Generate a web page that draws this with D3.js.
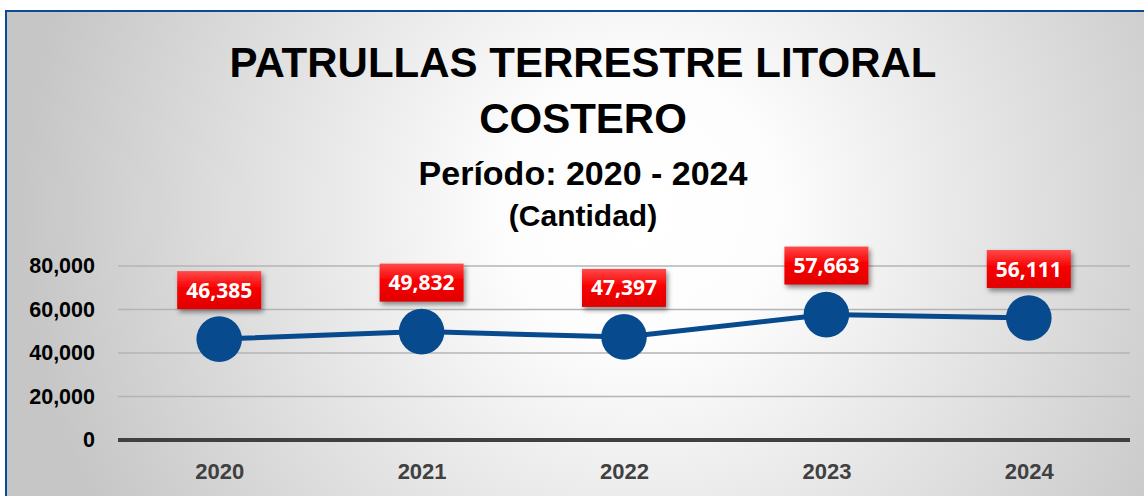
<!DOCTYPE html>
<html>
<head>
<meta charset="utf-8">
<script src="https://cdn.jsdelivr.net/npm/d3@7"></script>
<style>
  html, body { margin: 0; padding: 0; background: #fff; }
  svg { display: block; }
</style>
</head>
<body>
<svg id="chart" width="1144" height="496"></svg>
<script>
const years = ['2020', '2021', '2022', '2023', '2024'];
const patrullas = [46385, 49832, 47397, 57663, 56111];
const yTicks = [0, 20000, 40000, 60000, 80000];
const titleLines = ['PATRULLAS TERRESTRE LITORAL', 'COSTERO'];
const subtitle = 'Período: 2020 - 2024';
const unitLabel = '(Cantidad)';

const W = 1144, H = 496;
const margin = { top: 266, right: 14, bottom: 56, left: 118 };
const width = W - margin.left - margin.right;
const height = H - margin.top - margin.bottom;

const svg = d3.select('#chart');
const defs = svg.append('defs');

// background: radial white centre, grey edges
const bg = defs.append('radialGradient').attr('id', 'bg')
  .attr('gradientUnits', 'userSpaceOnUse')
  .attr('cx', 640).attr('cy', 210).attr('r', 620);
bg.append('stop').attr('offset', '0%').attr('stop-color', '#ffffff');
bg.append('stop').attr('offset', '22%').attr('stop-color', '#fdfdfd');
bg.append('stop').attr('offset', '100%').attr('stop-color', '#c6c6c6');

const red = defs.append('linearGradient').attr('id', 'redbox')
  .attr('x1', 0).attr('y1', 0).attr('x2', 0).attr('y2', 1);
red.append('stop').attr('offset', '0%').attr('stop-color', '#ff4a4a');
red.append('stop').attr('offset', '45%').attr('stop-color', '#f80000');
red.append('stop').attr('offset', '100%').attr('stop-color', '#e00000');

const shadow = defs.append('filter').attr('id', 'shadow')
  .attr('x', '-20%').attr('y', '-20%').attr('width', '150%').attr('height', '170%');
shadow.append('feDropShadow').attr('dx', 2).attr('dy', 3)
  .attr('stdDeviation', 2.5).attr('flood-color', '#000').attr('flood-opacity', 0.45);

svg.append('rect').attr('x', 6).attr('y', 11).attr('width', W).attr('height', H)
  .attr('fill', 'url(#bg)').attr('stroke', '#0c4a92').attr('stroke-width', 2);

// titles
const tFont = '"Liberation Sans", Arial, sans-serif';
const cx = 583;
svg.append('g').selectAll('text').data(titleLines).join('text')
  .attr('x', cx).attr('y', (d, i) => 77 + i * 56)
  .attr('text-anchor', 'middle')
  .style('font-family', tFont).style('font-weight', 'bold').style('font-size', '42px')
  .attr('fill', '#000').text(d => d);
svg.append('text').attr('x', cx).attr('y', 185).attr('text-anchor', 'middle')
  .style('font-family', tFont).style('font-weight', 'bold').style('font-size', '34px')
  .attr('fill', '#000').text(subtitle);
svg.append('text').attr('x', cx).attr('y', 226).attr('text-anchor', 'middle')
  .style('font-family', tFont).style('font-weight', 'bold').style('font-size', '30px')
  .attr('fill', '#000').text(unitLabel);

const g = svg.append('g').attr('transform', `translate(${margin.left},${margin.top})`);

const x = d3.scalePoint().domain(years).range([0, width]).padding(0.5);
const y = d3.scaleLinear().domain([0, 80000]).range([height, 0]);

// gridlines
g.append('g').selectAll('line').data(yTicks.filter(d => d > 0)).join('line')
  .attr('x1', 0).attr('x2', width)
  .attr('y1', d => y(d)).attr('y2', d => y(d))
  .attr('stroke', '#b4b4b4').attr('stroke-width', 1.5);

// y axis labels
const yAxis = g.append('g').call(d3.axisLeft(y).tickValues(yTicks).tickSize(0).tickPadding(23)
  .tickFormat(d3.format(',')));
yAxis.select('.domain').remove();
yAxis.selectAll('text')
  .style('font-family', tFont)
  .style('font-weight', 'bold').style('font-size', '21.5px').attr('fill', '#000');

// x axis
const xAxis = g.append('g').attr('transform', `translate(0,${height})`)
  .call(d3.axisBottom(x).tickSize(0).tickPadding(23));
xAxis.select('.domain').attr('stroke', '#404040').attr('stroke-width', 4)
  .attr('d', `M0,0H${width}`);
xAxis.selectAll('text')
  .style('font-family', tFont)
  .style('font-weight', 'bold').style('font-size', '22px').attr('fill', '#404040');

// line + markers
const pts = years.map((yr, i) => ({ yr, v: patrullas[i] }));
g.append('path').datum(pts)
  .attr('fill', 'none').attr('stroke', '#074a8e').attr('stroke-width', 5)
  .attr('d', d3.line().x(d => x(d.yr)).y(d => y(d.v)));
g.append('g').selectAll('circle').data(pts).join('circle')
  .attr('cx', d => x(d.yr)).attr('cy', d => y(d.v)).attr('r', 22.8)
  .attr('fill', '#074a8e');

// data labels
const lbl = g.append('g').selectAll('g').data(pts).join('g')
  .attr('transform', d => `translate(${x(d.yr)},${y(d.v) - 49})`);
lbl.append('rect').attr('x', -42).attr('y', -19).attr('width', 84).attr('height', 38)
  .attr('fill', 'url(#redbox)').attr('filter', 'url(#shadow)');
lbl.append('text').attr('text-anchor', 'middle').attr('dy', '0.36em')
  .style('font-family', '"Open Sans", "Noto Sans", sans-serif')
  .style('font-weight', 'bold').style('font-size', '21px').attr('fill', '#fff')
  .text(d => d3.format(',')(d.v));
</script>
</body>
</html>
